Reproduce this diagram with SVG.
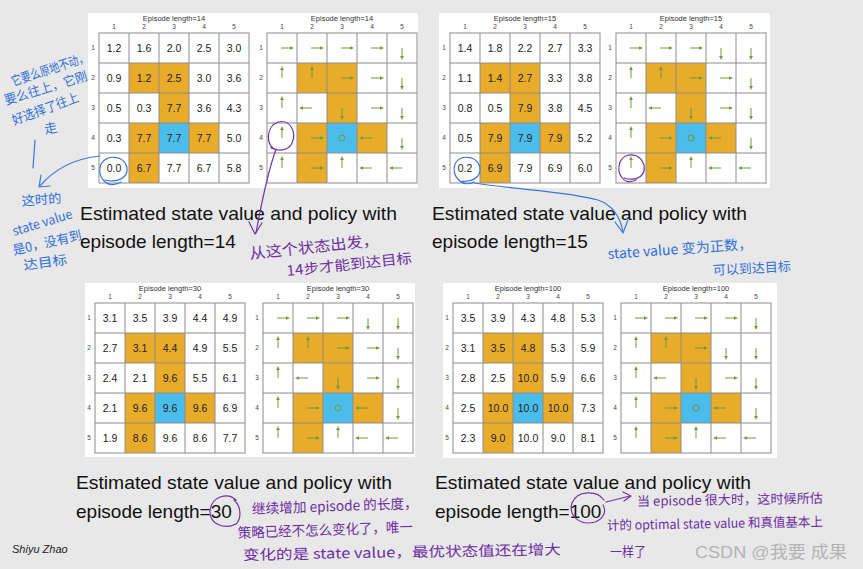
<svg xmlns="http://www.w3.org/2000/svg" xmlns:xlink="http://www.w3.org/1999/xlink" width="863" height="569" viewBox="0 0 863 569">
<style>
.panel{fill:#fff}
.org{fill:#e9ab2a}
.tgt{fill:#4bbdea}
.gl{stroke:#8c8c8c;stroke-width:1;fill:none}
.v{font-family:"Liberation Sans",Arial,sans-serif;font-size:10.5px;fill:#222;text-anchor:middle}
.lb{font-family:"Liberation Sans",Arial,sans-serif;font-size:6.5px;fill:#444;text-anchor:middle}
.tt{font-family:"Liberation Sans",Arial,sans-serif;font-size:7.5px;fill:#333;text-anchor:middle}
.cap{font-family:"Liberation Sans",Arial,sans-serif;font-size:19px;fill:#111}
.ar{stroke:#6c9b3c;stroke-width:1;fill:none}
.ah{fill:#6c9b3c}
.hb{font-family:"Noto Sans CJK SC",sans-serif;fill:#3170e0}
.hp{font-family:"Noto Sans CJK SC",sans-serif;fill:#6e2fa6}
.sb{stroke:#3a76e4;fill:none;stroke-width:1.2;stroke-linecap:round;stroke-linejoin:round}
.sp{stroke:#7034a8;fill:none;stroke-width:1.2;stroke-linecap:round;stroke-linejoin:round}
</style>
<defs>
<g id="cells">
<rect class="org" x="30" y="30" width="30" height="30"/>
<rect class="org" x="60" y="30" width="30" height="30"/>
<rect class="org" x="60" y="60" width="30" height="30"/>
<rect class="org" x="30" y="90" width="30" height="30"/>
<rect class="org" x="90" y="90" width="30" height="30"/>
<rect class="org" x="30" y="120" width="30" height="30"/>
<rect class="tgt" x="60" y="90" width="30" height="30"/>
</g>
<g id="lines">
<rect class="gl" x="0" y="0" width="150" height="150"/>
<path class="gl" d="M30 0V150M60 0V150M90 0V150M120 0V150M0 30H150M0 60H150M0 90H150M0 120H150"/>
</g>
<g id="lab" class="lb">
<text x="15" y="-4">1</text><text x="45" y="-4">2</text><text x="75" y="-4">3</text><text x="105" y="-4">4</text><text x="135" y="-4">5</text>
<text x="-6" y="17">1</text><text x="-6" y="47">2</text><text x="-6" y="77">3</text><text x="-6" y="107">4</text><text x="-6" y="137">5</text>
</g>
<g id="R"><path class="ar" d="M-1 0H9"/><path class="ah" d="M12 0L8 -1.8V1.8Z"/></g>
<g id="L"><path class="ar" d="M0 0H-10"/><path class="ah" d="M-13 0L-9 -1.8V1.8Z"/></g>
<g id="U"><path class="ar" d="M0 0V-9"/><path class="ah" d="M0 -12L-1.8 -8H1.8Z"/></g>
<g id="D"><path class="ar" d="M0 0V9"/><path class="ah" d="M0 12L-1.8 8H1.8Z"/></g>
<g id="common">
<use href="#U" x="15" y="75"/><use href="#L" x="45" y="75"/><use href="#D" x="75" y="75"/><use href="#R" x="105" y="75"/><use href="#D" x="135" y="75"/>
<use href="#U" x="15" y="105"/><use href="#R" x="45" y="105"/><circle cx="75" cy="105" r="3" fill="none" stroke="#6c9b3c" stroke-width="1"/><use href="#L" x="105" y="105"/><use href="#D" x="135" y="105"/>
<use href="#U" x="15" y="135"/><use href="#R" x="45" y="135"/><use href="#U" x="75" y="135"/><use href="#L" x="105" y="135"/><use href="#L" x="135" y="135"/>
</g>
</defs>
<rect x="0" y="0" width="863" height="569" fill="#e8e8e8"/>

<g id="panel-14">
<rect class="panel" x="88" y="13" width="330" height="175"/>
<g transform="translate(99,33)">
<use href="#cells"/>
<text class="tt" x="75" y="-12">Episode length=14</text>
<use href="#lab"/>
<g class="v">
<text y="19"><tspan x="15">1.2</tspan><tspan x="45">1.6</tspan><tspan x="75">2.0</tspan><tspan x="105">2.5</tspan><tspan x="135">3.0</tspan></text>
<text y="49"><tspan x="15">0.9</tspan><tspan x="45">1.2</tspan><tspan x="75">2.5</tspan><tspan x="105">3.0</tspan><tspan x="135">3.6</tspan></text>
<text y="79"><tspan x="15">0.5</tspan><tspan x="45">0.3</tspan><tspan x="75">7.7</tspan><tspan x="105">3.6</tspan><tspan x="135">4.3</tspan></text>
<text y="109"><tspan x="15">0.3</tspan><tspan x="45">7.7</tspan><tspan x="75">7.7</tspan><tspan x="105">7.7</tspan><tspan x="135">5.0</tspan></text>
<text y="139"><tspan x="15">0.0</tspan><tspan x="45">6.7</tspan><tspan x="75">7.7</tspan><tspan x="105">6.7</tspan><tspan x="135">5.8</tspan></text>
</g>
<use href="#lines"/>
</g>
<g transform="translate(267,33)">
<use href="#cells"/>
<text class="tt" x="75" y="-12">Episode length=14</text>
<use href="#lab"/>
<use href="#R" x="15" y="15"/><use href="#R" x="45" y="15"/><use href="#R" x="75" y="15"/><use href="#R" x="105" y="15"/><use href="#D" x="135" y="15"/>
<use href="#U" x="15" y="45"/><use href="#U" x="45" y="45"/><use href="#R" x="75" y="45"/><use href="#R" x="105" y="45"/><use href="#D" x="135" y="45"/>
<use href="#common"/>
<use href="#lines"/>
</g>
<text class="cap" x="80" y="220" textLength="317" lengthAdjust="spacingAndGlyphs">Estimated state value and policy with</text>
<text class="cap" x="80" y="248">episode length=14</text>
</g>

<g id="panel-15">
<rect class="panel" x="439" y="13" width="331" height="175"/>
<g transform="translate(450,33)">
<use href="#cells"/>
<text class="tt" x="75" y="-12">Episode length=15</text>
<use href="#lab"/>
<g class="v">
<text y="19"><tspan x="15">1.4</tspan><tspan x="45">1.8</tspan><tspan x="75">2.2</tspan><tspan x="105">2.7</tspan><tspan x="135">3.3</tspan></text>
<text y="49"><tspan x="15">1.1</tspan><tspan x="45">1.4</tspan><tspan x="75">2.7</tspan><tspan x="105">3.3</tspan><tspan x="135">3.8</tspan></text>
<text y="79"><tspan x="15">0.8</tspan><tspan x="45">0.5</tspan><tspan x="75">7.9</tspan><tspan x="105">3.8</tspan><tspan x="135">4.5</tspan></text>
<text y="109"><tspan x="15">0.5</tspan><tspan x="45">7.9</tspan><tspan x="75">7.9</tspan><tspan x="105">7.9</tspan><tspan x="135">5.2</tspan></text>
<text y="139"><tspan x="15">0.2</tspan><tspan x="45">6.9</tspan><tspan x="75">7.9</tspan><tspan x="105">6.9</tspan><tspan x="135">6.0</tspan></text>
</g>
<use href="#lines"/>
</g>
<g transform="translate(616,33)">
<use href="#cells"/>
<text class="tt" x="75" y="-12">Episode length=15</text>
<use href="#lab"/>
<use href="#R" x="15" y="15"/><use href="#R" x="45" y="15"/><use href="#R" x="75" y="15"/><use href="#D" x="105" y="15"/><use href="#D" x="135" y="15"/>
<use href="#U" x="15" y="45"/><use href="#U" x="45" y="45"/><use href="#R" x="75" y="45"/><use href="#R" x="105" y="45"/><use href="#D" x="135" y="45"/>
<use href="#common"/>
<use href="#lines"/>
</g>
<text class="cap" x="432" y="220" textLength="315" lengthAdjust="spacingAndGlyphs">Estimated state value and policy with</text>
<text class="cap" x="432" y="248">episode length=15</text>
</g>

<g id="panel-30">
<rect class="panel" x="85" y="283" width="330" height="174"/>
<g transform="translate(95,303)">
<use href="#cells"/>
<text class="tt" x="75" y="-12">Episode length=30</text>
<use href="#lab"/>
<g class="v">
<text y="19"><tspan x="15">3.1</tspan><tspan x="45">3.5</tspan><tspan x="75">3.9</tspan><tspan x="105">4.4</tspan><tspan x="135">4.9</tspan></text>
<text y="49"><tspan x="15">2.7</tspan><tspan x="45">3.1</tspan><tspan x="75">4.4</tspan><tspan x="105">4.9</tspan><tspan x="135">5.5</tspan></text>
<text y="79"><tspan x="15">2.4</tspan><tspan x="45">2.1</tspan><tspan x="75">9.6</tspan><tspan x="105">5.5</tspan><tspan x="135">6.1</tspan></text>
<text y="109"><tspan x="15">2.1</tspan><tspan x="45">9.6</tspan><tspan x="75">9.6</tspan><tspan x="105">9.6</tspan><tspan x="135">6.9</tspan></text>
<text y="139"><tspan x="15">1.9</tspan><tspan x="45">8.6</tspan><tspan x="75">9.6</tspan><tspan x="105">8.6</tspan><tspan x="135">7.7</tspan></text>
</g>
<use href="#lines"/>
</g>
<g transform="translate(263,303)">
<use href="#cells"/>
<text class="tt" x="75" y="-12">Episode length=30</text>
<use href="#lab"/>
<use href="#R" x="15" y="15"/><use href="#R" x="45" y="15"/><use href="#R" x="75" y="15"/><use href="#D" x="105" y="15"/><use href="#D" x="135" y="15"/>
<use href="#U" x="15" y="45"/><use href="#U" x="45" y="45"/><use href="#R" x="75" y="45"/><use href="#R" x="105" y="45"/><use href="#D" x="135" y="45"/>
<use href="#common"/>
<use href="#lines"/>
</g>
<text class="cap" x="76" y="489" textLength="316" lengthAdjust="spacingAndGlyphs">Estimated state value and policy with</text>
<text class="cap" x="76" y="518">episode length=30</text>
</g>

<g id="panel-100">
<rect class="panel" x="443" y="283" width="334" height="175"/>
<g transform="translate(453,303)">
<use href="#cells"/>
<text class="tt" x="75" y="-12">Episode length=100</text>
<use href="#lab"/>
<g class="v">
<text y="19"><tspan x="15">3.5</tspan><tspan x="45">3.9</tspan><tspan x="75">4.3</tspan><tspan x="105">4.8</tspan><tspan x="135">5.3</tspan></text>
<text y="49"><tspan x="15">3.1</tspan><tspan x="45">3.5</tspan><tspan x="75">4.8</tspan><tspan x="105">5.3</tspan><tspan x="135">5.9</tspan></text>
<text y="79"><tspan x="15">2.8</tspan><tspan x="45">2.5</tspan><tspan x="75">10.0</tspan><tspan x="105">5.9</tspan><tspan x="135">6.6</tspan></text>
<text y="109"><tspan x="15">2.5</tspan><tspan x="45">10.0</tspan><tspan x="75">10.0</tspan><tspan x="105">10.0</tspan><tspan x="135">7.3</tspan></text>
<text y="139"><tspan x="15">2.3</tspan><tspan x="45">9.0</tspan><tspan x="75">10.0</tspan><tspan x="105">9.0</tspan><tspan x="135">8.1</tspan></text>
</g>
<use href="#lines"/>
</g>
<g transform="translate(621,303)">
<use href="#cells"/>
<text class="tt" x="75" y="-12">Episode length=100</text>
<use href="#lab"/>
<use href="#R" x="15" y="15"/><use href="#R" x="45" y="15"/><use href="#R" x="75" y="15"/><use href="#R" x="105" y="15"/><use href="#D" x="135" y="15"/>
<use href="#U" x="15" y="45"/><use href="#U" x="45" y="45"/><use href="#R" x="75" y="45"/><use href="#D" x="105" y="45"/><use href="#D" x="135" y="45"/>
<use href="#common"/>
<use href="#lines"/>
</g>
<text class="cap" x="435" y="489" textLength="316" lengthAdjust="spacingAndGlyphs">Estimated state value and policy with</text>
<text class="cap" x="435" y="518">episode length=100</text>
</g>

<g id="annotations">
<text class="hb" font-size="13" transform="translate(13,86) rotate(-18)" textLength="80" lengthAdjust="spacingAndGlyphs">它要么原地不动，</text>
<text class="hb" font-size="13" transform="translate(6,105) rotate(-17)" textLength="86" lengthAdjust="spacingAndGlyphs">要么往上，它刚</text>
<text class="hb" font-size="13" transform="translate(14,125) rotate(-20)" textLength="70" lengthAdjust="spacingAndGlyphs">好选择了往上</text>
<text class="hb" font-size="13" transform="translate(45,134) rotate(-10)">走</text>
<text class="hb" font-size="13" transform="translate(22,206) rotate(-5)" textLength="40" lengthAdjust="spacingAndGlyphs">这时的</text>
<text class="hb" font-size="13" transform="translate(14,236) rotate(-17)" textLength="62" lengthAdjust="spacingAndGlyphs">state value</text>
<text class="hb" font-size="13" transform="translate(14,255) rotate(-13)" textLength="70" lengthAdjust="spacingAndGlyphs">是0，没有到</text>
<text class="hb" font-size="13" transform="translate(24,270) rotate(-8)" textLength="44" lengthAdjust="spacingAndGlyphs">达目标</text>
<text class="hb" font-size="14" transform="translate(608,259) rotate(-4)" textLength="145" lengthAdjust="spacingAndGlyphs">state value 变为正数，</text>
<text class="hb" font-size="13" transform="translate(713,275) rotate(-3)" textLength="78" lengthAdjust="spacingAndGlyphs">可以到达目标</text>
<text class="hp" font-size="15" transform="translate(250,259) rotate(-6)" textLength="130" lengthAdjust="spacingAndGlyphs">从这个状态出发，</text>
<text class="hp" font-size="14" transform="translate(287,276) rotate(-6)" textLength="126" lengthAdjust="spacingAndGlyphs">14步才能到达目标</text>
<text class="hp" font-size="14" transform="translate(252,514) rotate(-2)" textLength="166" lengthAdjust="spacingAndGlyphs">继续增加 episode 的长度，</text>
<text class="hp" font-size="14" transform="translate(238,538) rotate(-2)" textLength="175" lengthAdjust="spacingAndGlyphs">策略已经不怎么变化了，唯一</text>
<text class="hp" font-size="14" transform="translate(243,560) rotate(-1)" textLength="318" lengthAdjust="spacingAndGlyphs">变化的是 state value，最优状态值还在增大</text>
<text class="hp" font-size="13" transform="translate(637,506) rotate(-1)" textLength="186" lengthAdjust="spacingAndGlyphs">当 episode 很大时，这时候所估</text>
<text class="hp" font-size="13" transform="translate(607,530) rotate(-1)" textLength="216" lengthAdjust="spacingAndGlyphs">计的 optimal state value 和真值基本上</text>
<text class="hp" font-size="13" x="610" y="556" textLength="36" lengthAdjust="spacingAndGlyphs">一样了</text>
</g>

<g id="connectors">
<path class="sb" d="M35 140 Q34 155 33 168"/>
<path class="sb" d="M100 156 Q62 160 40 186"/>
<path class="sb" d="M41 175 L39 187 L50 186"/>
<path class="sb" d="M121 182 C106 190 96 176 101 164 C106 154 125 155 127 168 C128 178 118 183 105 180"/>
<path class="sb" d="M474 182 C462 188 451 176 455 164 C459 154 478 155 480 168 C481 177 472 183 460 181"/>
<path class="sb" d="M474 183 C520 190 570 192 598 200 C612 205 620 215 623 232"/>
<path class="sb" d="M615 222 L623 233 L628 220"/>
<path class="sp" d="M276 150 C265 146 266 126 278 122 C290 119 297 132 292 143 C289 150 280 152 271 148"/>
<path class="sp" d="M276 149 C268 172 262 200 256 233"/>
<path class="sp" d="M249 222 L255 234 L262 223"/>
<path class="sp" d="M636 180 C624 186 616 174 620 162 C624 152 640 152 644 165 C646 175 638 182 624 178"/>
<path class="sp" d="M236 500 C228 492 212 496 210 510 C209 524 224 530 236 524 C242 518 241 506 234 500"/>
<path class="sp" d="M604 500 C597 490 577 490 572 503 C568 516 580 526 595 522 C603 519 607 512 603 505"/>
<path class="sp" d="M606 502 C614 500 622 498 630 496"/>
<path class="sp" d="M623 492 L631 496 L624 501"/>
</g>

<text x="12" y="553" font-family="Liberation Sans, Arial, sans-serif" font-size="11" font-style="italic" fill="#222">Shiyu Zhao</text>
<text x="695" y="558" font-family="Liberation Sans, 'Noto Sans CJK SC', sans-serif" font-size="17" fill="#b4b4b4" textLength="152" lengthAdjust="spacingAndGlyphs">CSDN @我要 成果</text>
</svg>
